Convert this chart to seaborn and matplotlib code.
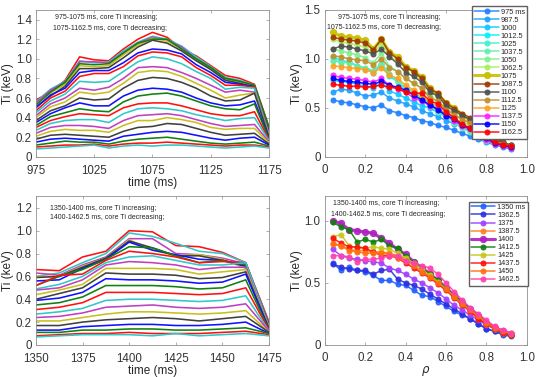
import numpy as np
import pandas as pd
import matplotlib
matplotlib.use('Agg')
import matplotlib.pyplot as plt
import seaborn as sns

# radial grid
rho = [0.04, 0.08, 0.12, 0.16, 0.20, 0.24, 0.28, 0.32, 0.36, 0.40, 0.44, 0.48,
       0.52, 0.56, 0.60, 0.64, 0.68, 0.72, 0.76, 0.80, 0.84, 0.88, 0.92]

# ---- first period: 975 - 1175 ms ----
times_a = [975, 987.5, 1000, 1012.5, 1025, 1037.5, 1050, 1062.5, 1075, 1087.5,
           1100, 1112.5, 1125, 1137.5, 1150, 1162.5, 1175]
ti_a = [
    [0.58, 0.56, 0.55, 0.53, 0.51, 0.50, 0.53, 0.47, 0.45, 0.42, 0.40, 0.37, 0.35, 0.32, 0.30, 0.27, 0.24, 0.21, 0.18, 0.15, 0.12, 0.10, 0.08],
    [0.66, 0.69, 0.68, 0.65, 0.62, 0.63, 0.66, 0.60, 0.57, 0.54, 0.51, 0.47, 0.44, 0.41, 0.37, 0.34, 0.30, 0.26, 0.22, 0.18, 0.14, 0.11, 0.09],
    [0.78, 0.77, 0.76, 0.74, 0.72, 0.70, 0.76, 0.67, 0.64, 0.60, 0.56, 0.52, 0.50, 0.45, 0.41, 0.37, 0.32, 0.28, 0.23, 0.19, 0.16, 0.12, 0.10],
    [1.02, 0.98, 0.97, 0.93, 0.90, 0.86, 0.95, 0.82, 0.77, 0.70, 0.66, 0.60, 0.55, 0.49, 0.44, 0.38, 0.32, 0.27, 0.22, 0.18, 0.15, 0.12, 0.11],
    [0.99, 0.96, 0.97, 0.92, 0.90, 0.88, 0.94, 0.85, 0.76, 0.68, 0.64, 0.58, 0.52, 0.47, 0.43, 0.38, 0.31, 0.27, 0.21, 0.17, 0.15, 0.13, 0.12],
    [0.98, 0.97, 0.96, 0.93, 0.91, 0.88, 0.95, 0.85, 0.77, 0.71, 0.66, 0.59, 0.52, 0.46, 0.42, 0.35, 0.29, 0.25, 0.20, 0.16, 0.13, 0.11, 0.09],
    [1.10, 1.08, 1.06, 1.04, 1.01, 0.96, 1.06, 0.92, 0.87, 0.80, 0.75, 0.70, 0.62, 0.56, 0.50, 0.44, 0.37, 0.32, 0.26, 0.21, 0.16, 0.13, 0.11],
    [1.20, 1.17, 1.16, 1.14, 1.12, 1.06, 1.16, 1.03, 0.97, 0.91, 0.86, 0.78, 0.68, 0.62, 0.54, 0.49, 0.42, 0.37, 0.30, 0.23, 0.18, 0.14, 0.12],
    [1.27, 1.23, 1.22, 1.21, 1.19, 1.10, 1.20, 1.07, 1.02, 0.92, 0.88, 0.81, 0.70, 0.64, 0.55, 0.50, 0.43, 0.37, 0.31, 0.25, 0.19, 0.14, 0.11],
    [1.22, 1.20, 1.19, 1.18, 1.16, 1.09, 1.20, 1.06, 1.00, 0.91, 0.87, 0.80, 0.69, 0.65, 0.55, 0.49, 0.44, 0.40, 0.34, 0.26, 0.20, 0.15, 0.12],
    [1.10, 1.13, 1.12, 1.10, 1.08, 1.05, 1.10, 1.02, 0.95, 0.86, 0.82, 0.76, 0.66, 0.62, 0.52, 0.47, 0.42, 0.38, 0.33, 0.25, 0.18, 0.14, 0.12],
    [1.03, 1.02, 1.00, 0.99, 0.98, 0.94, 1.00, 0.91, 0.87, 0.80, 0.75, 0.70, 0.60, 0.57, 0.48, 0.43, 0.38, 0.35, 0.29, 0.22, 0.16, 0.13, 0.11],
    [0.93, 0.92, 0.91, 0.90, 0.89, 0.86, 0.91, 0.83, 0.80, 0.73, 0.68, 0.62, 0.55, 0.52, 0.44, 0.40, 0.34, 0.30, 0.25, 0.19, 0.14, 0.12, 0.10],
    [0.83, 0.81, 0.80, 0.79, 0.78, 0.76, 0.80, 0.73, 0.69, 0.66, 0.60, 0.57, 0.52, 0.49, 0.42, 0.37, 0.31, 0.28, 0.22, 0.17, 0.13, 0.11, 0.09],
    [0.80, 0.78, 0.77, 0.76, 0.75, 0.74, 0.77, 0.73, 0.71, 0.68, 0.63, 0.58, 0.53, 0.48, 0.42, 0.39, 0.32, 0.29, 0.23, 0.19, 0.14, 0.12, 0.10],
    [0.74, 0.73, 0.72, 0.72, 0.71, 0.72, 0.73, 0.71, 0.70, 0.66, 0.65, 0.65, 0.57, 0.54, 0.46, 0.40, 0.33, 0.29, 0.24, 0.20, 0.15, 0.12, 0.11],
    [0.30, 0.29, 0.28, 0.27, 0.26, 0.25, 0.30, 0.24, 0.23, 0.22, 0.21, 0.20, 0.19, 0.18, 0.17, 0.16, 0.15, 0.14, 0.13, 0.12, 0.11, 0.10, 0.09],
]
labels_a = ['975 ms', '987.5', '1000', '1012.5', '1025', '1037.5', '1050', '1062.5',
            '1075', '1087.5', '1100', '1112.5', '1125', '1137.5', '1150', '1162.5']
colors_a = ['#2080ff', '#20a0ff', '#10c8ff', '#00f0ff', '#40f0d0', '#60f0b0', '#80f090', '#a8f060',
            '#c8c000', '#a03800', '#505050', '#c09030', '#ffa020', '#ff20ff', '#0000ff', '#ff0000']

# ---- second period: 1350 - 1475 ms ----
times_b = [1350, 1362.5, 1375, 1387.5, 1400, 1412.5, 1425, 1437.5, 1450, 1462.5, 1475]
ti_b = [
    [0.66, 0.60, 0.63, 0.60, 0.59, 0.56, 0.52, 0.52, 0.49, 0.48, 0.44, 0.40, 0.39, 0.35, 0.31, 0.27, 0.24, 0.21, 0.17, 0.13, 0.11, 0.08, 0.07],
    [0.65, 0.63, 0.61, 0.60, 0.60, 0.57, 0.60, 0.61, 0.53, 0.50, 0.48, 0.45, 0.41, 0.37, 0.33, 0.29, 0.25, 0.21, 0.17, 0.13, 0.11, 0.09, 0.08],
    [0.77, 0.72, 0.70, 0.69, 0.68, 0.67, 0.66, 0.62, 0.60, 0.57, 0.53, 0.50, 0.46, 0.42, 0.37, 0.32, 0.28, 0.24, 0.20, 0.16, 0.13, 0.10, 0.09],
    [0.82, 0.80, 0.77, 0.76, 0.76, 0.75, 0.75, 0.74, 0.72, 0.70, 0.67, 0.63, 0.58, 0.52, 0.46, 0.39, 0.33, 0.27, 0.22, 0.17, 0.13, 0.10, 0.09],
    [1.00, 0.98, 0.93, 0.92, 0.91, 0.90, 0.86, 0.82, 0.77, 0.73, 0.67, 0.62, 0.57, 0.52, 0.46, 0.40, 0.34, 0.29, 0.23, 0.18, 0.14, 0.11, 0.09],
    [0.99, 0.95, 0.93, 0.83, 0.85, 0.83, 0.85, 0.80, 0.78, 0.72, 0.67, 0.62, 0.57, 0.52, 0.46, 0.40, 0.35, 0.29, 0.24, 0.18, 0.14, 0.10, 0.08],
    [0.87, 0.89, 0.80, 0.78, 0.78, 0.79, 0.78, 0.77, 0.74, 0.70, 0.66, 0.61, 0.56, 0.51, 0.45, 0.39, 0.33, 0.28, 0.23, 0.17, 0.13, 0.10, 0.10],
    [0.86, 0.82, 0.79, 0.79, 0.78, 0.75, 0.72, 0.72, 0.70, 0.66, 0.62, 0.58, 0.54, 0.49, 0.44, 0.38, 0.32, 0.27, 0.21, 0.17, 0.13, 0.10, 0.08],
    [0.81, 0.80, 0.76, 0.75, 0.74, 0.74, 0.74, 0.73, 0.70, 0.68, 0.64, 0.59, 0.55, 0.50, 0.45, 0.39, 0.33, 0.28, 0.23, 0.18, 0.14, 0.11, 0.09],
    [0.72, 0.72, 0.71, 0.67, 0.69, 0.69, 0.70, 0.72, 0.72, 0.68, 0.66, 0.64, 0.62, 0.57, 0.50, 0.43, 0.36, 0.30, 0.25, 0.20, 0.15, 0.12, 0.10],
    [0.20, 0.19, 0.19, 0.18, 0.18, 0.17, 0.17, 0.16, 0.16, 0.15, 0.15, 0.14, 0.14, 0.13, 0.13, 0.12, 0.12, 0.11, 0.11, 0.10, 0.10, 0.09, 0.08],
]
labels_b = ['1350 ms', '1362.5', '1375', '1387.5', '1400', '1412.5', '1425', '1437.5', '1450', '1462.5']
colors_b = ['#2060ff', '#3030e0', '#a040ff', '#ff8020', '#b020c0', '#108010', '#c8c820',
            '#ff1010', '#ff7010', '#ff40b0']

# line colours of the time traces, from core outwards
trace_colors = ['#ff1010', '#30c8c8', '#c040c0', '#c8c020', '#404040', '#1010ff', '#108010']

sns.set_style('ticks')
plt.rcParams['font.family'] = ['Liberation Sans', 'DejaVu Sans']

fig = plt.figure(figsize=(5.36, 3.77), dpi=100)
ax1 = fig.add_axes([0.067, 0.584, 0.435, 0.390])
ax2 = fig.add_axes([0.606, 0.584, 0.377, 0.390])
ax3 = fig.add_axes([0.067, 0.085, 0.435, 0.394])
ax4 = fig.add_axes([0.606, 0.085, 0.377, 0.395])


def time_traces(ax, times, ti):
    arr = np.array(ti)
    for j in range(len(rho)):
        sns.lineplot(x=times, y=arr[:, j], ax=ax, color=trace_colors[j % 7], lw=1.15)


def profiles(ax, ti, labels, colors, thick):
    for i, lab in enumerate(labels):
        big = (i == thick)
        sns.lineplot(x=rho, y=ti[i], ax=ax, color=colors[i], label=lab,
                     lw=2.2 if big else 1.1, marker='o', ms=4.5 if big else 3.6,
                     mfc=colors[i], mec=colors[i], alpha=0.9)


def frame(ax, xpad=4):
    for s in ax.spines.values():
        s.set_color('#909090')
        s.set_linewidth(0.6)
    ax.tick_params(direction='in', length=2, width=0.5, labelsize=8.3,
                   top=True, right=True, colors='#909090', labelcolor='#333333')
    ax.tick_params(axis='x', pad=xpad)
    ax.tick_params(axis='y', pad=3)


time_traces(ax1, times_a, ti_a)
ax1.set_xlim(975, 1175)
ax1.set_ylim(0, 1.5)
ax1.set_xticks([975, 1025, 1075, 1125, 1175])
ax1.set_yticks([0, 0.2, 0.4, 0.6, 0.8, 1.0, 1.2, 1.4])
ax1.set_yticklabels(['0', '0.2', '0.4', '0.6', '0.8', '1.0', '1.2', '1.4'])
ax1.set_xlabel('time (ms)', fontsize=8.5, labelpad=0)
ax1.set_ylabel('Ti (keV)', fontsize=8.5, labelpad=1)
ax1.text(0.082, 0.946, '975-1075 ms, core Ti increasing;', transform=ax1.transAxes,
         fontsize=5, va='center')
ax1.text(0.073, 0.871, '1075-1162.5 ms, core Ti decreasing;', transform=ax1.transAxes,
         fontsize=5, va='center')
frame(ax1, xpad=6)

profiles(ax2, ti_a, labels_a, colors_a, 8)
ax2.set_xlim(0, 1.0)
ax2.set_ylim(0, 1.5)
ax2.set_xticks([0, 0.2, 0.4, 0.6, 0.8, 1.0])
ax2.set_xticklabels(['0', '0.2', '0.4', '0.6', '0.8', '1.0'])
ax2.set_yticks([0, 0.5, 1.0, 1.5])
ax2.set_yticklabels(['0', '0.5', '1.0', '1.5'])
ax2.set_ylabel('Ti (keV)', fontsize=8.5, labelpad=1)
ax2.text(0.064, 0.946, '975-1075 ms, core Ti increasing;', transform=ax2.transAxes,
         fontsize=5, va='center')
ax2.text(0.012, 0.88, '1075-1162.5 ms, core Ti decreasing;', transform=ax2.transAxes,
         fontsize=5, va='center')
ax2.legend(loc='upper right', bbox_to_anchor=(1.02, 1.048), fontsize=5.3, handlelength=3.3,
           labelspacing=0.12, borderpad=0.3, handletextpad=0.3, fancybox=False,
           framealpha=1, edgecolor='#606060')
frame(ax2, xpad=5)

time_traces(ax3, times_b, ti_b)
ax3.set_xlim(1350, 1475)
ax3.set_ylim(0, 1.3)
ax3.set_xticks([1350, 1375, 1400, 1425, 1450, 1475])
ax3.set_yticks([0, 0.2, 0.4, 0.6, 0.8, 1.0, 1.2])
ax3.set_yticklabels(['0', '0.2', '0.4', '0.6', '0.8', '1.0', '1.2'])
ax3.set_xlabel('time (ms)', fontsize=8.5, labelpad=0)
ax3.set_ylabel('Ti (keV)', fontsize=8.5, labelpad=1)
ax3.text(0.06, 0.92, '1350-1400 ms, core Ti increasing;', transform=ax3.transAxes,
         fontsize=5, va='center')
ax3.text(0.06, 0.86, '1400-1462.5 ms, core Ti decreasing;', transform=ax3.transAxes,
         fontsize=5, va='center')
frame(ax3, xpad=6)

profiles(ax4, ti_b, labels_b, colors_b, 4)
ax4.set_xlim(0, 1.0)
ax4.set_ylim(0, 1.2)
ax4.set_xticks([0, 0.2, 0.4, 0.6, 0.8, 1.0])
ax4.set_xticklabels(['0', '0.2', '0.4', '0.6', '0.8', '1.0'])
ax4.set_yticks([0, 0.5, 1.0])
ax4.set_yticklabels(['0', '0.5', '1.0'])
ax4.set_xlabel(r'$\rho$', fontsize=8.5, labelpad=0)
ax4.set_ylabel('Ti (keV)', fontsize=8.5, labelpad=1)
ax4.text(0.04, 0.947, '1350-1400 ms, core Ti increasing;', transform=ax4.transAxes,
         fontsize=5, va='center')
ax4.text(0.033, 0.875, '1400-1462.5 ms, core Ti decreasing;', transform=ax4.transAxes,
         fontsize=5, va='center')
ax4.legend(loc='upper right', bbox_to_anchor=(1.023, 0.987), fontsize=5.3, handlelength=3.3,
           labelspacing=0.12, borderpad=0.3, handletextpad=0.3, fancybox=False,
           framealpha=1, edgecolor='#606060')
frame(ax4, xpad=5)

plt.savefig('out.png', dpi=100)
